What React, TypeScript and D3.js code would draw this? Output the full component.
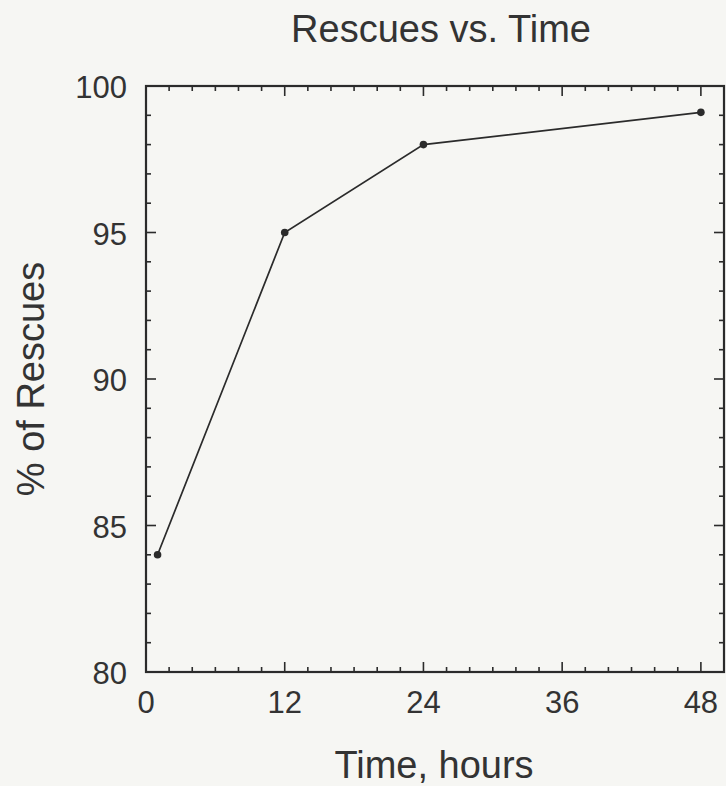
import React from "react";
import * as d3 from "d3";

const hours = [1, 12, 24, 48];
const rescuePct = [84, 95, 98, 99.1];
const xTickValues = [0, 12, 24, 36, 48];
const yTickValues = [80, 85, 90, 95, 100];
const titleText = "Rescues vs. Time";
const xTitle = "Time, hours";
const yTitle = "% of Rescues";

const W = 726;
const H = 786;
const left = 146;
const right = 724;
const top = 86;
const bottom = 672;
const ink = "#2b2b2b";
const textInk = "#333333";
const bg = "#f6f6f3";
const font = "'Liberation Sans', Arial, Helvetica, sans-serif";

export default function App() {
  const x = d3.scaleLinear().domain([0, 50]).range([left, right]);
  const y = d3.scaleLinear().domain([80, 100]).range([bottom, top]);
  const line = d3
    .line<number>()
    .x((_, i) => x(hours[i]))
    .y((d) => y(d));

  const xMinor = d3.range(2, 50, 2).filter((v) => v % 12 !== 0);
  const yMinor = d3.range(81, 100, 1).filter((v) => v % 5 !== 0);
  const xMajor = xTickValues.filter((v) => v > 0);
  const yMajor = yTickValues.filter((v) => v > 80 && v < 100);
  const MAJ = 10;
  const MIN = 5;

  return (
    <svg
      width={W}
      height={H}
      style={{ position: "absolute", left: 0, top: 0, display: "block" }}
    >
      <rect x={0} y={0} width={W} height={H} fill={bg} />
      <text
        x={441}
        y={42}
        textAnchor="middle"
        fontFamily={font}
        fontSize={38}
        fill={textInk}
      >
        {titleText}
      </text>
      {/* ticks */}
      <g stroke={ink} strokeWidth={1.6}>
        {xMinor.map((v) => (
          <g key={"xm" + v}>
            <line x1={x(v)} x2={x(v)} y1={bottom} y2={bottom - MIN} />
            <line x1={x(v)} x2={x(v)} y1={top} y2={top + MIN} />
          </g>
        ))}
        {xMajor.map((v) => (
          <g key={"xM" + v}>
            <line x1={x(v)} x2={x(v)} y1={bottom} y2={bottom - MAJ} />
            <line x1={x(v)} x2={x(v)} y1={top} y2={top + MAJ} />
          </g>
        ))}
        {yMinor.map((v) => (
          <g key={"ym" + v}>
            <line x1={left} x2={left + MIN} y1={y(v)} y2={y(v)} />
            <line x1={right} x2={right - MIN} y1={y(v)} y2={y(v)} />
          </g>
        ))}
        {yMajor.map((v) => (
          <g key={"yM" + v}>
            <line x1={left} x2={left + MAJ} y1={y(v)} y2={y(v)} />
            <line x1={right} x2={right - MAJ} y1={y(v)} y2={y(v)} />
          </g>
        ))}
      </g>
      <rect
        x={left}
        y={top}
        width={right - left}
        height={bottom - top}
        fill="none"
        stroke={ink}
        strokeWidth={2.2}
      />
      {/* tick labels */}
      <g fontFamily={font} fontSize={31} fill={textInk}>
        {yTickValues.map((v) => (
          <text key={"yl" + v} x={127} y={y(v) + 12} textAnchor="end">
            {v}
          </text>
        ))}
        {xTickValues.map((v) => (
          <text key={"xl" + v} x={x(v)} y={713} textAnchor="middle">
            {v}
          </text>
        ))}
      </g>
      <text
        x={434}
        y={778}
        textAnchor="middle"
        fontFamily={font}
        fontSize={38}
        fill={textInk}
      >
        {xTitle}
      </text>
      <text
        transform={`translate(44,${(top + bottom) / 2}) rotate(-90)`}
        textAnchor="middle"
        fontFamily={font}
        fontSize={38}
        fill={textInk}
      >
        {yTitle}
      </text>
      {/* data */}
      <path
        d={line(rescuePct) || ""}
        fill="none"
        stroke={ink}
        strokeWidth={1.7}
      />
      {rescuePct.map((v, i) => (
        <circle key={"p" + i} cx={x(hours[i])} cy={y(v)} r={3.8} fill={ink} />
      ))}
    </svg>
  );
}
